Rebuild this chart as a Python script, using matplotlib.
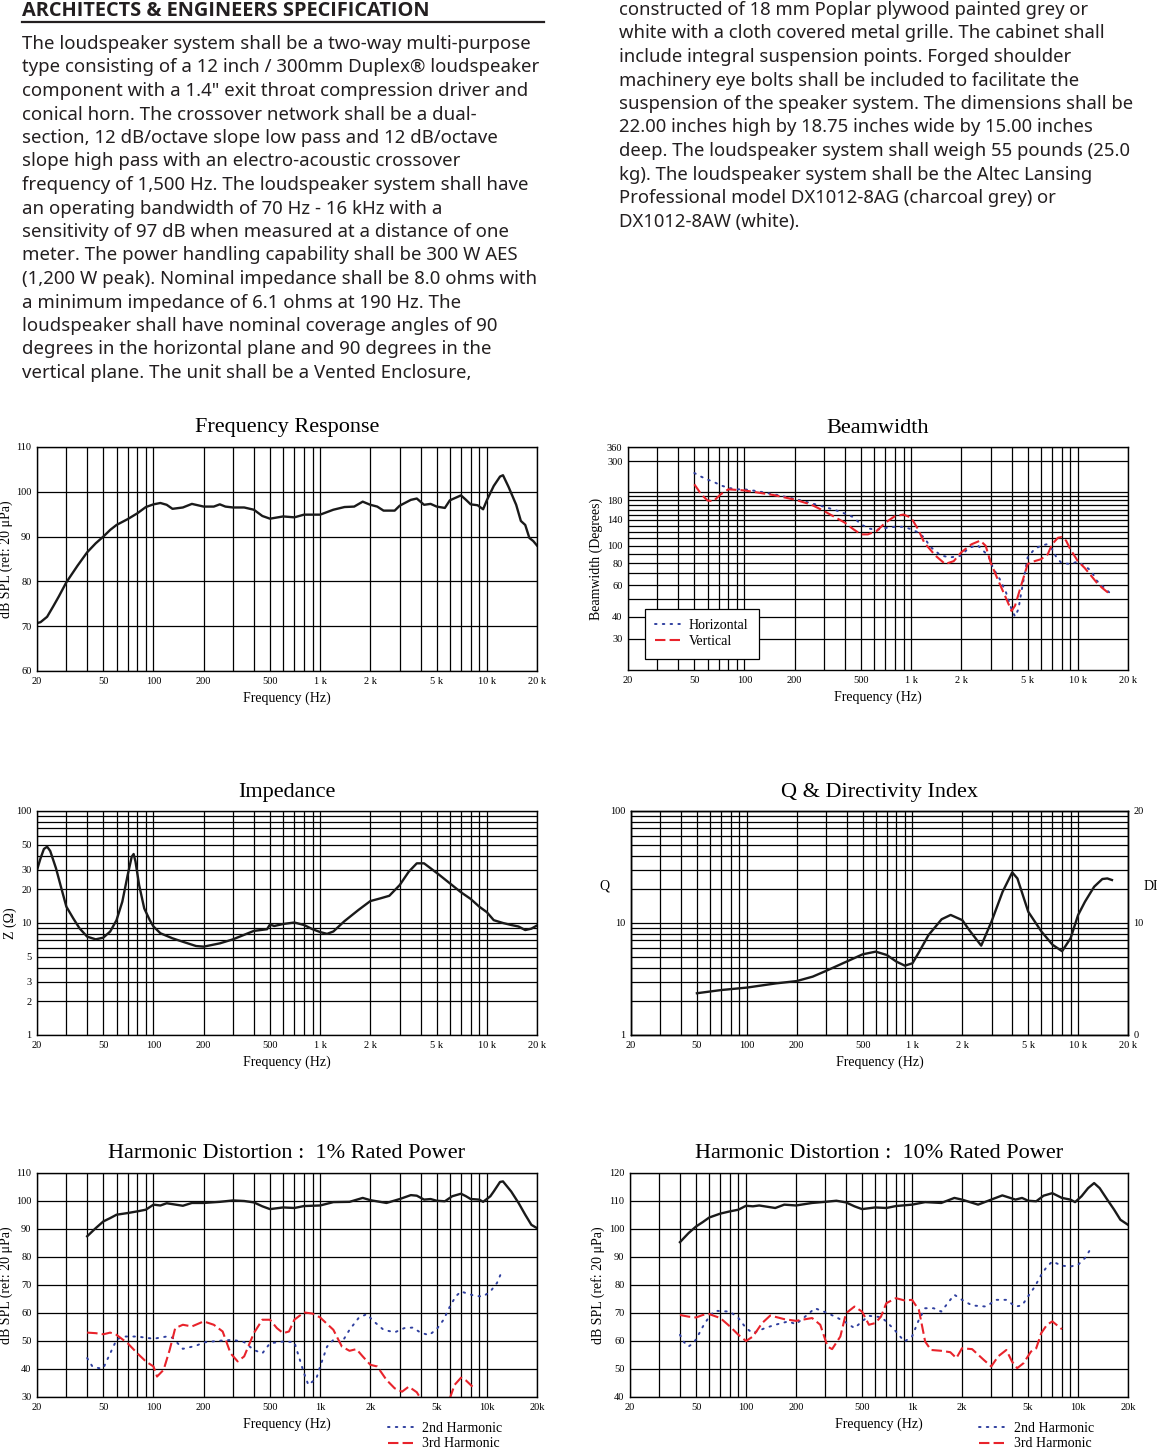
import numpy as np
import matplotlib.pyplot as plt
from matplotlib.ticker import FixedLocator, FixedFormatter, NullFormatter

W, H = 1157, 1448
plt.rcParams['font.family'] = ['Liberation Serif', 'DejaVu Serif']

# ---- text blocks ----
heading = "ARCHITECTS & ENGINEERS SPECIFICATION"
left_lines = [
    "The loudspeaker system shall be a two-way multi-purpose",
    "type consisting of a 12 inch / 300mm Duplex® loudspeaker",
    "component with a 1.4\" exit throat compression driver and",
    "conical horn. The crossover network shall be a dual-",
    "section, 12 dB/octave slope low pass and 12 dB/octave",
    "slope high pass with an electro-acoustic crossover",
    "frequency of 1,500 Hz. The loudspeaker system shall have",
    "an operating bandwidth of 70 Hz - 16 kHz with a",
    "sensitivity of 97 dB when measured at a distance of one",
    "meter. The power handling capability shall be 300 W AES",
    "(1,200 W peak). Nominal impedance shall be 8.0 ohms with",
    "a minimum impedance of 6.1 ohms at 190 Hz. The",
    "loudspeaker shall have nominal coverage angles of 90",
    "degrees in the horizontal plane and 90 degrees in the",
    "vertical plane. The unit shall be a Vented Enclosure,",
]
right_lines = [
    "constructed of 18 mm Poplar plywood painted grey or",
    "white with a cloth covered metal grille. The cabinet shall",
    "include integral suspension points. Forged shoulder",
    "machinery eye bolts shall be included to facilitate the",
    "suspension of the speaker system. The dimensions shall be",
    "22.00 inches high by 18.75 inches wide by 15.00 inches",
    "deep. The loudspeaker system shall weigh 55 pounds (25.0",
    "kg). The loudspeaker system shall be the Altec Lansing",
    "Professional model DX1012-8AG (charcoal grey) or",
    "DX1012-8AW (white).",
]

# ---- Frequency response ----
fr_f = [20, 21, 23, 25, 27, 30, 35, 40, 45, 50, 55, 60, 70, 80, 90, 100, 110, 120, 130, 150, 170, 200,
        230, 250, 270, 300, 350, 400, 450, 500, 600, 700, 800, 1000, 1200, 1400, 1600, 1800,
        2000, 2200, 2400, 2800, 3000, 3500, 3800, 4200, 4600, 5000, 5600, 6000, 7000, 7500,
        8000, 8800, 9500, 10000, 11000, 12000, 12500, 13500, 15000, 16000, 17000, 18000, 19000, 20000]
fr_db = [70.7, 70.9, 72.1, 74.4, 76.6, 79.8, 83.5, 86.5, 88.5, 90.0, 91.5, 92.6, 93.9, 95.2, 96.6, 97.2, 97.5,
         97.1, 96.2, 96.5, 97.3, 96.7, 96.7, 97.2, 96.7, 96.5, 96.5, 96.0, 94.6, 94.0, 94.5, 94.3,
         94.9, 94.9, 96.0, 96.6, 96.7, 97.8, 97.1, 96.7, 95.8, 95.8, 96.9, 98.2, 98.5, 97.1, 97.3,
         96.7, 96.4, 98.1, 99.2, 98.2, 97.2, 97.0, 96.1, 98.1, 101.3, 103.4, 103.7, 101.1, 97.1,
         93.5, 92.6, 89.7, 89.0, 88.0]

# ---- Beamwidth ----
bw_h_f = [50, 55, 60, 66, 72, 80, 90, 100, 120, 150, 200, 250, 300, 350, 400, 450, 500, 560, 620,
          700, 800, 900, 1000, 1100, 1200, 1300, 1500, 1700, 2000, 2200, 2500, 2700, 2900, 3100,
          3400, 3700, 4000, 4200, 4400, 4600, 5000, 5500, 6000, 6500, 7000, 7500, 8000, 9000,
          10000, 11000, 12000, 13000, 14000, 16000]
bw_h = [257, 245, 236, 228, 219, 212, 208, 208, 203, 195, 184, 174, 166, 159, 152, 145, 132, 125,
        123, 126, 128, 128, 124, 119, 111, 99, 88.5, 86, 88, 97, 101, 94, 88, 75, 65, 55, 44, 40,
        44, 56, 86, 96, 100, 102, 96, 85, 80, 79, 81.5, 77, 72.5, 63.6, 59.6, 53]
bw_v_f = [50, 55, 60, 65, 72, 80, 100, 150, 200, 250, 300, 400, 450, 500, 550, 620, 700, 800, 900,
          1000, 1100, 1200, 1400, 1600, 1800, 2000, 2300, 2600, 2800, 3000, 3300, 3700, 4000,
          4200, 4500, 5000, 5500, 6000, 6600, 7000, 7600, 8000, 8500, 9000, 10000, 11000, 12000,
          13000, 14000, 15000, 16000]
bw_v = [222, 195, 180, 178, 195, 208, 205, 193, 182, 171, 157, 135, 124, 116, 116, 121, 135, 147,
        150, 144, 124, 104, 88, 79, 82, 92, 102, 107, 100, 80.5, 65, 51, 43, 46, 57, 79, 82, 84,
        89.6, 102, 111, 112, 107, 96, 82, 75, 68, 62, 58, 55, 54]

# ---- Impedance ----
z_f = [20, 21, 22, 23, 24, 26, 28, 30, 33, 36, 40, 45, 50, 55, 60, 65, 70, 74, 76, 78, 82, 88, 95,
       100, 110, 130, 150, 180, 200, 250, 300, 400, 480, 500, 530, 600, 700, 800, 900, 1000, 1100,
       1200, 1400, 1700, 2000, 2300, 2600, 3000, 3400, 3800, 4200, 4600, 5200, 6000, 7000, 8000,
       9000, 10000, 11000, 12500, 14000, 15500, 17000, 18500, 20000]
z_ohm = [29.7, 37.8, 45.8, 48, 44, 30.8, 20.4, 14, 11, 8.96, 7.55, 7.15, 7.4, 8.4, 10.6, 15.5, 26.8,
         39, 41.3, 35.3, 21.8, 13.5, 10.6, 9.3, 8.1, 7.3, 6.8, 6.23, 6.15, 6.58, 7.15, 8.5, 8.8, 9.7,
         9.4, 9.8, 10.1, 9.6, 8.8, 8.3, 8.0, 8.4, 10.4, 13.1, 15.7, 16.6, 17.5, 21.8, 28.7, 34.1,
         34.1, 30.8, 26.8, 22.6, 18.8, 16.4, 14, 12.5, 10.6, 10, 9.6, 9.3, 8.65, 8.9, 9.5]

# ---- Q & DI ----
q_f = [50, 70, 100, 150, 200, 250, 300, 400, 500, 600, 700, 800, 900, 1000, 1100, 1250, 1500,
       1700, 2000, 2200, 2600, 3000, 3500, 4000, 4300, 5000, 6000, 7000, 8000, 9000, 10000,
       11000, 12500, 14000, 15000, 16000]
q_val = [2.36, 2.52, 2.65, 2.89, 3.03, 3.32, 3.73, 4.52, 5.25, 5.55, 5.18, 4.52, 4.16, 4.37, 5.55,
         7.8, 10.8, 11.8, 10.6, 8.66, 6.28, 10.3, 19, 28.3, 25, 12.6, 8.4, 6.4, 5.6, 7.3, 11.8,
         15.5, 21.1, 24.7, 25, 24.2]

# ---- Harmonic distortion, 1% rated power ----
hd1_f = [40, 45, 50, 55, 60, 70, 80, 90, 100, 110, 120, 150, 170, 200, 250, 300, 350, 400, 450,
         500, 600, 700, 800, 1000, 1200, 1500, 1800, 2000, 2500, 3000, 3500, 3800, 4200, 4600,
         5000, 5600, 6200, 7000, 7500, 8000, 9000, 9500, 10500, 11000, 12000, 12500, 14000,
         15500, 17000, 18500, 20000]
hd1_fund = [87.4, 90.3, 92.7, 93.9, 95.1, 95.7, 96.3, 96.9, 98.7, 98.4, 99.2, 98.3, 99.3, 99.3,
            99.7, 100.2, 100, 99.5, 98.1, 97.1, 97.7, 97.5, 98.2, 98.4, 99.6, 99.7, 101.1, 100.3,
            99.3, 100.7, 102.1, 101.9, 100.5, 100.7, 100.1, 99.9, 101.7, 102.6, 101.7, 100.7,
            100.5, 99.7, 101.7, 103.4, 106.8, 107, 103.4, 99.3, 95.1, 91.5, 90.3]
hd1_2nd_f = [40, 43, 47, 50, 55, 60, 65, 80, 100, 120, 130, 150, 180, 200, 250, 300, 350, 400, 450,
             500, 600, 700, 800, 850, 950, 1000, 1100, 1200, 1350, 1500, 1700, 1900, 2100, 2400,
             2800, 3200, 3600, 4000, 4500, 5000, 5500, 6000, 6500, 7000, 7500, 8500, 9500,
             10500, 11500, 12300]
hd1_2nd = [43.9, 40.9, 40.3, 40.3, 45.6, 50.4, 51.6, 51.6, 50.8, 51.6, 51.2, 47.2, 48.3, 49.5,
           50.1, 50.4, 49.6, 46.8, 45.6, 49.2, 49.8, 49.6, 38.5, 34.3, 36.7, 40.9, 48, 50.4, 49.5,
           54, 58.2, 59.6, 57, 54, 53.1, 54.6, 54.8, 53, 52.1, 54.2, 57.6, 62.3, 65.9, 67.7, 67.1,
           66.1, 65.9, 67.7, 70.7, 74.8]
hd1_3rd_f = [40, 45, 50, 55, 60, 70, 80, 90, 100, 105, 115, 125, 135, 150, 170, 200, 230, 260,
             290, 320, 350, 400, 450, 500, 550, 600, 650, 700, 800, 900, 1000, 1200, 1350, 1500,
             1650, 1800, 2000, 2200, 2500, 2800, 3100, 3400, 3800, 4000]
hd1_3rd = [53, 52.8, 52.4, 53, 52.2, 49.2, 45.6, 42.7, 40.9, 37.3, 39.7, 46.8, 54.6, 55.8, 55.2,
           57, 55.8, 53.4, 45.6, 42.7, 44.5, 52.8, 57.6, 57.6, 54.6, 52.8, 53.4, 57.6, 60.2, 59.8,
           58.4, 54, 48, 46.5, 47.1, 44.5, 41.5, 40.9, 36.1, 33.1, 31.9, 33.7, 31.7, 29.5]
hd1_3rd_hi_f = [6000, 6400, 7000, 7500, 8200]
hd1_3rd_hi = [29.5, 34.3, 36.9, 35.9, 33.7]

# ---- Harmonic distortion, 10% rated power ----
hd10_f = [40, 45, 50, 55, 60, 70, 80, 90, 100, 110, 120, 150, 170, 200, 250, 300, 350, 400, 450,
          500, 600, 700, 800, 1000, 1200, 1500, 1800, 2000, 2500, 3000, 3500, 4200, 4600, 5000,
          5600, 6200, 7000, 8000, 9000, 9600, 10500, 11500, 12500, 13500, 15000, 16500, 18000,
          20000]
hd10_fund = [95.3, 98.5, 100.9, 102.5, 104.1, 105.5, 106.3, 106.9, 108.3, 108.1, 108.4, 107.5,
             108.7, 108.4, 109.3, 109.7, 110.1, 109.5, 108.1, 107.1, 107.7, 107.5, 108.2, 108.7,
             109.6, 109.3, 111.1, 110.5, 108.7, 110.5, 112, 110.5, 111.1, 110.1, 109.9, 111.9,
             112.8, 111.1, 110.5, 109.6, 111.7, 114.6, 116.4, 114.6, 110.5, 106.9, 103.3, 101.5]
hd10_2nd_f = [40, 42, 45, 48, 50, 55, 60, 65, 80, 90, 100, 110, 130, 150, 180, 200, 230, 260, 300,
              350, 400, 450, 500, 550, 650, 700, 800, 900, 1000, 1100, 1200, 1350, 1500, 1700,
              1800, 2000, 2300, 2800, 3200, 3700, 4200, 4600, 5000, 5500, 6000, 6500, 7000, 8000,
              9000, 10000, 11000, 12000]
hd10_2nd = [62.2, 59.8, 58, 59.2, 60.6, 65.2, 68.7, 70.8, 70.5, 68.2, 64.6, 62.8, 64.6, 65.8, 67,
            66, 69, 71.7, 70.3, 68.5, 66.6, 64.6, 67, 69, 68.5, 67, 63.4, 59.8, 61.6, 67.6, 71.7,
            71.7, 70.5, 74.7, 76.5, 74.7, 72.7, 72.3, 74.7, 74.7, 72.3, 72.7, 75.9, 79.5, 83.6,
            86.6, 88.4, 86.9, 86.6, 87.2, 89.6, 93.2]
hd10_3rd_f = [40, 45, 50, 55, 60, 70, 80, 90, 100, 110, 125, 140, 170, 200, 250, 280, 310, 330, 370,
              400, 450, 500, 550, 600, 650, 700, 800, 900, 1000, 1100, 1200, 1300, 1500, 1700,
              1850, 2000, 2300, 2700, 3000, 3300, 3700, 4000, 4300, 4700, 5200, 5600, 6000, 6500,
              7000, 8000]
hd10_3rd = [69.3, 68.7, 68.4, 69.3, 69.6, 68.2, 65.2, 62.2, 60, 61.6, 66.4, 69.1, 67.8, 67.2, 68.2,
            65.8, 58, 57.1, 61.6, 69.9, 72.3, 70.5, 65.8, 66.4, 68.7, 73.5, 75.3, 74.5, 74.7, 71.1,
            59.8, 56.8, 56.5, 56, 53.9, 57.4, 57.1, 53.3, 50.9, 54.5, 56.8, 52.7, 50.3, 52.1, 56.2,
            57.4, 62.8, 65.8, 67, 64.2]

major_f = [20, 50, 100, 200, 500, 1000, 2000, 5000, 10000, 20000]
minor_f = [30, 40, 60, 70, 80, 90, 300, 400, 600, 700, 800, 900,
           3000, 4000, 6000, 7000, 8000, 9000]
f_labels_sp = ["20", "50", "100", "200", "500", "1 k", "2 k", "5 k", "10 k", "20 k"]
f_labels = ["20", "50", "100", "200", "500", "1k", "2k", "5k", "10k", "20k"]

BLACK = "#1a1a1a"
BLUE = "#2f3f9f"
RED = "#e8232b"
INK = "#231f20"

fig = plt.figure(figsize=(W / 100, H / 100), dpi=100)


def px_axes(left, top, right, bottom):
    return fig.add_axes([left / W, 1 - bottom / H, (right - left) / W, (bottom - top) / H])


def freq_axis(ax, labels, title, ylabel, ylab_x):
    ax.set_xscale('log')
    ax.set_xlim(20, 20000)
    ax.xaxis.set_major_locator(FixedLocator(major_f))
    ax.xaxis.set_major_formatter(FixedFormatter(labels))
    ax.xaxis.set_minor_locator(FixedLocator(minor_f))
    ax.xaxis.set_minor_formatter(NullFormatter())
    ax.grid(True, which='both', color='black', lw=0.9)
    ax.set_axisbelow(True)
    ax.tick_params(which='both', length=0, labelsize=7.5, pad=4)
    for s in ax.spines.values():
        s.set_linewidth(1.0)
    h = ax.get_position().height * H
    ax.text(0.5, 1 + 19 / h, title, transform=ax.transAxes, ha='center', va='center', fontsize=16)
    ax.text(0.5, -27 / h, "Frequency (Hz)", transform=ax.transAxes, ha='center', va='center', fontsize=10)
    if ylabel:
        ax.text(ylab_x, 0.5, ylabel, transform=ax.transAxes, ha='center', va='center',
                rotation=90, fontsize=10)


def dotted(ax, x, y, **kw):
    return ax.plot(x, y, color=BLUE, lw=1.4, ls=(0, (0.8, 3.2)), dash_capstyle='round', **kw)


def dashed(ax, x, y, **kw):
    return ax.plot(x, y, color=RED, lw=1.5, ls=(0, (5, 2)), **kw)


# ---- header text ----
fig.text(22 / W, 1 - 16 / H, heading, fontsize=14.4, fontweight='bold',
         family=['Open Sans', 'Lato', 'DejaVu Sans'], color=INK, va='baseline')
fig.add_artist(plt.Line2D([22 / W, 544 / W], [1 - 22 / H, 1 - 22 / H], color=INK, lw=1.6))
for i, line in enumerate(left_lines):
    fig.text(22 / W, 1 - (49 + i * 23.5) / H, line, fontsize=13.4, family='Noto Sans',
             color=INK, va='baseline')
for i, line in enumerate(right_lines):
    fig.text(619 / W, 1 - (15 + i * 23.5) / H, line, fontsize=13.3, family='Noto Sans',
             color=INK, va='baseline')

# ---- Frequency Response ----
ax = px_axes(37, 447, 537, 671)
ax.plot(fr_f, fr_db, color=BLACK, lw=1.7)
ax.set_ylim(60, 110)
ax.set_yticks(np.arange(60, 111, 10))
freq_axis(ax, f_labels_sp, "Frequency Response", "dB SPL (ref: 20 μPa)", -0.062)

# ---- Beamwidth ----
ax = px_axes(628, 447, 1128, 670)
ax.set_yscale('log')
ax.set_ylim(20, 360)
bw_major = [30, 40, 60, 80, 100, 140, 180, 300, 360]
ax.yaxis.set_major_locator(FixedLocator(bw_major))
ax.yaxis.set_major_formatter(FixedFormatter([str(v) for v in bw_major]))
ax.yaxis.set_minor_locator(FixedLocator([50, 70, 90, 110, 120, 130, 150, 160, 170, 190, 200]))
ax.yaxis.set_minor_formatter(NullFormatter())
dotted(ax, bw_h_f, bw_h, label="Horizontal")
dashed(ax, bw_v_f, bw_v, label="Vertical")
freq_axis(ax, f_labels_sp, "Beamwidth", "Beamwidth (Degrees)", -0.064)
leg = ax.legend(loc='upper left', bbox_to_anchor=(0.034, 0.274), borderaxespad=0, fontsize=10,
                frameon=True, fancybox=False, edgecolor='black', framealpha=1,
                handlelength=1.8, borderpad=0.75, labelspacing=0.2, handletextpad=0.6)
leg.get_frame().set_linewidth(0.9)

# ---- Impedance ----
ax = px_axes(37, 811, 537, 1035)
ax.set_yscale('log')
ax.set_ylim(1, 100)
z_major = [1, 2, 3, 5, 10, 20, 30, 50, 100]
ax.yaxis.set_major_locator(FixedLocator(z_major))
ax.yaxis.set_major_formatter(FixedFormatter([str(v) for v in z_major]))
ax.yaxis.set_minor_locator(FixedLocator([4, 6, 7, 8, 9, 40, 60, 70, 80, 90]))
ax.yaxis.set_minor_formatter(NullFormatter())
ax.plot(z_f, z_ohm, color=BLACK, lw=1.7)
freq_axis(ax, f_labels_sp, "Impedance", "Z (Ω)", -0.054)

# ---- Q & Directivity Index ----
ax = px_axes(631, 811, 1128, 1035)
ax.set_yscale('log')
ax.set_ylim(1, 100)
ax.yaxis.set_major_locator(FixedLocator([1, 10, 100]))
ax.yaxis.set_major_formatter(FixedFormatter(["1", "10", "100"]))
ax.yaxis.set_minor_locator(FixedLocator([2, 3, 4, 5, 6, 7, 8, 9, 20, 30, 40, 50, 60, 70, 80, 90]))
ax.yaxis.set_minor_formatter(NullFormatter())
ax.plot(q_f, q_val, color=BLACK, lw=1.7)
freq_axis(ax, f_labels_sp, "Q & Directivity Index", None, 0)
ax.text(-0.054, 0.665, "Q", transform=ax.transAxes, ha='center', va='center', fontsize=10)
ax.text(1.032, 0.665, "DI", transform=ax.transAxes, ha='left', va='center', fontsize=10)
ax2 = ax.twinx()
ax2.set_ylim(0, 20)
ax2.set_yticks([0, 10, 20])
ax2.tick_params(length=0, labelsize=7.5, pad=4)
for s in ax2.spines.values():
    s.set_linewidth(1.0)

# ---- Harmonic distortion 1% ----
ax = px_axes(37, 1173, 537, 1397)
ax.set_ylim(30, 110)
ax.set_yticks(np.arange(30, 111, 10))
ax.plot(hd1_f, hd1_fund, color=BLACK, lw=1.7)
dotted(ax, hd1_2nd_f, hd1_2nd, label="2nd Harmonic")
dashed(ax, hd1_3rd_f, hd1_3rd, label="3rd Harmonic")
dashed(ax, hd1_3rd_hi_f, hd1_3rd_hi)
freq_axis(ax, f_labels, "Harmonic Distortion :  1% Rated Power", "dB SPL (ref: 20 μPa)", -0.062)
ax.legend(loc='upper left', bbox_to_anchor=(0.69, -0.085), borderaxespad=0, fontsize=10,
          frameon=False, handlelength=1.8, labelspacing=0.2, handletextpad=0.7)

# ---- Harmonic distortion 10% ----
ax = px_axes(630, 1173, 1128, 1397)
ax.set_ylim(40, 120)
ax.set_yticks(np.arange(40, 121, 10))
ax.plot(hd10_f, hd10_fund, color=BLACK, lw=1.7)
dotted(ax, hd10_2nd_f, hd10_2nd, label="2nd Harmonic")
dashed(ax, hd10_3rd_f, hd10_3rd, label="3rd Harmonic")
freq_axis(ax, f_labels, "Harmonic Distortion :  10% Rated Power", "dB SPL (ref: 20 μPa)", -0.064)
ax.legend(loc='upper left', bbox_to_anchor=(0.69, -0.085), borderaxespad=0, fontsize=10,
          frameon=False, handlelength=1.8, labelspacing=0.2, handletextpad=0.7)

fig.savefig("out.png", dpi=100)
